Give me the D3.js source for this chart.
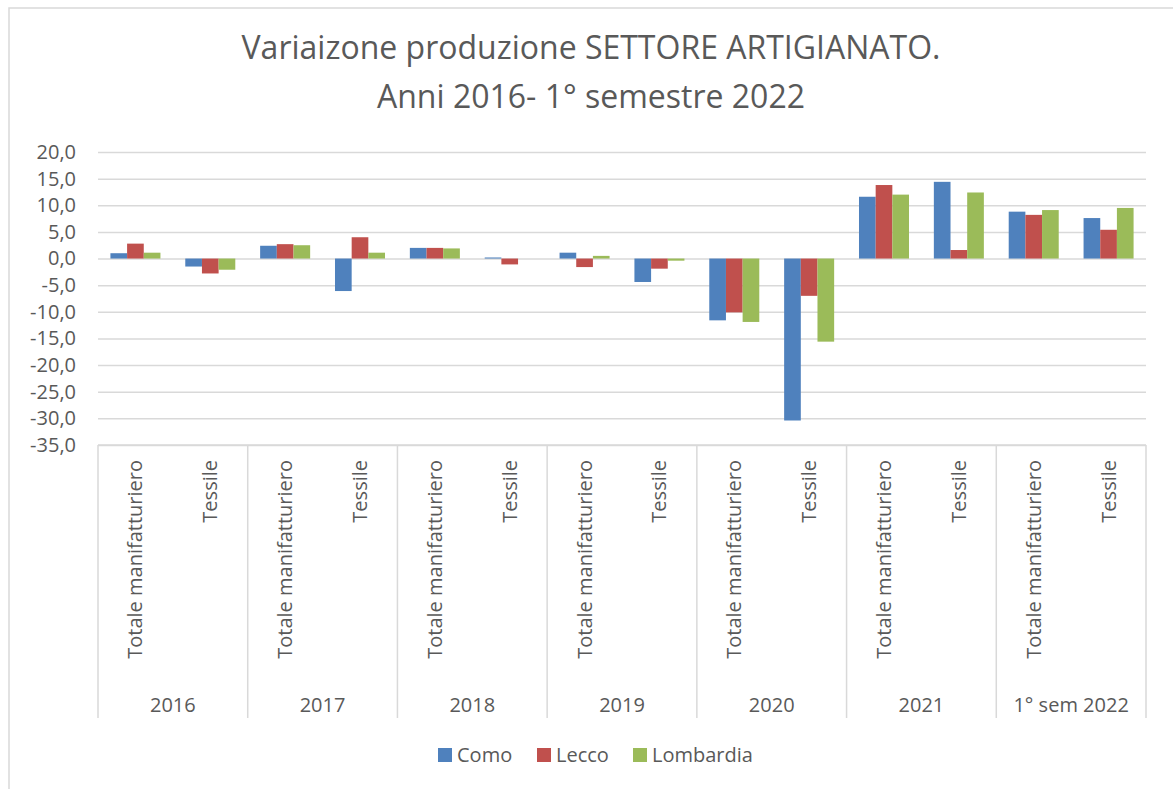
<!DOCTYPE html>
<html>
<head>
<meta charset="utf-8">
<script src="https://cdn.jsdelivr.net/npm/d3@7"></script>
<style>
  body { margin: 0; background: #fff; }
  text { font-family: "Open Sans", "Noto Sans", sans-serif; fill: #595959; }
</style>
</head>
<body>
<svg id="svg1" width="1173" height="789"></svg>
<script>
var svg = d3.select('#svg1');

// data
var years = ['2016', '2017', '2018', '2019', '2020', '2021', '1° sem 2022'];
var sectors = ['Totale manifatturiero', 'Tessile'];
var seriesNames = ['Como', 'Lecco', 'Lombardia'];
var como =      [1.0, -1.5, 2.4, -6.1, 2.0, 0.2, 1.1, -4.4, -11.6, -30.4, 11.6, 14.4, 8.8, 7.6];
var lecco =     [2.8, -2.8, 2.7, 4.0, 2.0, -1.1, -1.6, -1.9, -10.1, -7.0, 13.8, 1.6, 8.2, 5.4];
var lombardia = [1.1, -2.1, 2.5, 1.1, 1.9, 0.0, 0.5, -0.4, -11.9, -15.6, 12.0, 12.4, 9.1, 9.5];
var yTicks = [20, 15, 10, 5, 0, -5, -10, -15, -20, -25, -30, -35];

var colors = ['#4f81bd', '#c0504d', '#9bbb59'];
var allSeries = [como, lecco, lombardia];

// one row per category (year x sector)
var rows = [];
years.forEach(function(y, i) {
    sectors.forEach(function(s, j) {
        var k = i * sectors.length + j;
        rows.push({key: y + '|' + s, year: y, sector: s,
                   values: seriesNames.map(function(n, si) { return {name: n, v: allSeries[si][k]}; })});
    });
});

var plot = {l: 98, r: 1146, t: 152, b: 445};

var x0 = d3.scaleBand()
    .domain(rows.map(function(d) { return d.key; }))
    .range([plot.l, plot.r]);

var x1 = d3.scaleBand()
    .domain(seriesNames)
    .range([0, x0.bandwidth()])
    .paddingInner(0)
    .paddingOuter(0.745);

var y = d3.scaleLinear()
    .domain([-35, 20])
    .range([plot.b, plot.t]);

var colorScale = d3.scaleOrdinal().domain(seriesNames).range(colors);

// chart frame
svg.append('rect')
    .attr('x', 9).attr('y', 8)
    .attr('width', 1180).attr('height', 800)
    .attr('fill', 'none')
    .attr('stroke', '#d9d9d9')
    .attr('stroke-width', 1.5);

// title
var title = svg.append('text')
    .attr('text-anchor', 'middle')
    .style('font-size', '32px');
title.append('tspan').attr('x', 591).attr('y', 59).text('Variaizone produzione SETTORE ARTIGIANATO.');
title.append('tspan').attr('x', 591).attr('y', 108).text('Anni 2016- 1° semestre 2022');

// gridlines + y axis labels
var yAxis = svg.append('g')
    .attr('class', 'y_axis')
    .attr('transform', 'translate(' + plot.l + ',0)')
    .call(d3.axisLeft(y)
        .tickValues(yTicks)
        .tickSize(-(plot.r - plot.l))
        .tickPadding(22)
        .tickFormat(function(d) { return d3.format('.1f')(d).replace('.', ',').replace('−', '-'); }));
yAxis.select('.domain').remove();
yAxis.selectAll('.tick line').attr('stroke', '#d9d9d9').attr('stroke-width', 1.5);
yAxis.selectAll('.tick text')
    .style('font-size', '20px')
    .style('font-family', '"Open Sans", sans-serif')
    .attr('fill', '#595959');

// bars
var groups = svg.selectAll('.cat')
    .data(rows)
    .enter()
    .append('g')
    .attr('class', 'cat')
    .attr('transform', function(d) { return 'translate(' + x0(d.key) + ',0)'; });

groups.selectAll('rect')
    .data(function(d) { return d.values; })
    .enter()
    .append('rect')
    .attr('x', function(d) { return x1(d.name); })
    .attr('y', function(d) { return y(Math.max(0, d.v)); })
    .attr('width', x1.bandwidth())
    .attr('height', function(d) { return Math.abs(y(d.v) - y(0)); })
    .attr('fill', function(d) { return colorScale(d.name); });

// category axis box
var catBottom = 718;
var axisG = svg.append('g').attr('class', 'x_axis');
axisG.append('line')
    .attr('x1', plot.l).attr('x2', plot.r)
    .attr('y1', plot.b).attr('y2', plot.b)
    .attr('stroke', '#d9d9d9').attr('stroke-width', 1.5);

var yearEdges = years.map(function(yr) { return x0(yr + '|' + sectors[0]); });
yearEdges.push(plot.r);
axisG.selectAll('.yearline')
    .data(yearEdges)
    .enter()
    .append('line')
    .attr('x1', function(d) { return d; }).attr('x2', function(d) { return d; })
    .attr('y1', plot.b).attr('y2', catBottom)
    .attr('stroke', '#d9d9d9').attr('stroke-width', 1.5);

// sector labels (rotated)
axisG.selectAll('.sector')
    .data(rows)
    .enter()
    .append('text')
    .attr('transform', function(d) {
        return 'translate(' + (x0(d.key) + x0.bandwidth() / 2 + 7) + ',' + 460 + ') rotate(-90)';
    })
    .attr('text-anchor', 'end')
    .style('font-size', '20px')
    .text(function(d) { return d.sector; });

// year labels
axisG.selectAll('.year')
    .data(years)
    .enter()
    .append('text')
    .attr('x', function(d) { return x0(d + '|' + sectors[0]) + x0.bandwidth(); })
    .attr('y', 712)
    .attr('text-anchor', 'middle')
    .style('font-size', '20px')
    .text(function(d) { return d; });

// legend
var legendX = [438, 537, 633];
var legend = svg.selectAll('.legend')
    .data(seriesNames)
    .enter()
    .append('g')
    .attr('class', 'legend')
    .attr('transform', function(d, i) { return 'translate(' + legendX[i] + ',748)'; });
legend.append('rect')
    .attr('width', 14).attr('height', 14)
    .attr('fill', function(d) { return colorScale(d); });
legend.append('text')
    .attr('x', 19).attr('y', 14)
    .style('font-size', '20px')
    .text(function(d) { return d; });
</script>
</body>
</html>
